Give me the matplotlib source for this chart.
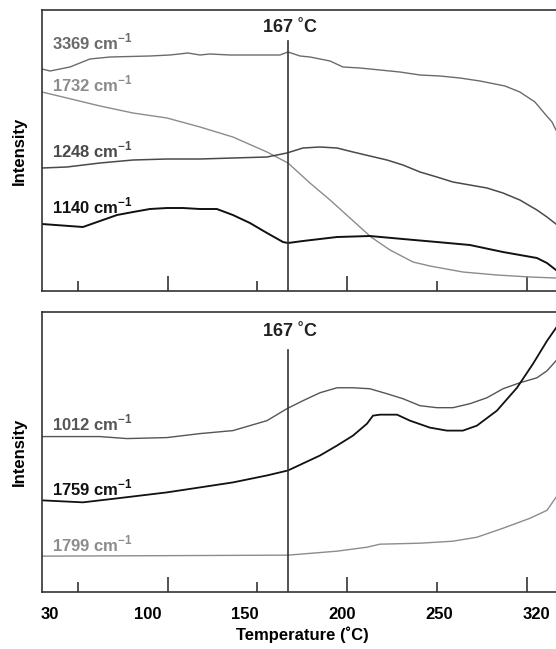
import matplotlib
matplotlib.use('Agg')
import matplotlib.pyplot as plt

plt.rcParams['font.family'] = ['Liberation Sans', 'DejaVu Sans']
plt.rcParams['font.weight'] = 'bold'
plt.rcParams['mathtext.fontset'] = 'custom'
plt.rcParams['mathtext.rm'] = 'Liberation Sans:bold'
plt.rcParams['mathtext.bf'] = 'Liberation Sans:bold'

# ---- data (temperature in degC, intensity in a.u.) ----
t_3369 = [30, 34.5, 40, 45.6, 56.7, 67.9, 90.1, 101.3, 111.3, 118, 123.5, 134.7, 145.8, 157, 162.5, 167,
          173.7, 179.2, 184.8, 190.4, 197.6, 207.1, 218.2, 229.3, 240.5, 251.6, 262.7, 273.9, 287.8, 296.1,
          304.5, 310.1, 314, 316.2]
i_3369 = [222, 220, 222, 224, 232, 234, 235, 236, 238, 236, 237, 236, 236, 236, 236, 239,
          235, 234, 232, 230, 224, 223, 221, 219, 216, 215, 213, 210, 205, 199,
          189, 177, 169, 161]

t_1732 = [30, 43.9, 62.3, 80.7, 99.6, 118, 136.3, 155.3, 167, 179.2, 190.4, 201.5, 213.2, 223.8,
          236.6, 246, 264.4, 283.3, 301.7, 316.2]
i_1732 = [199, 193, 185, 178, 173, 164, 154, 139, 128, 108, 91, 73, 54, 41,
          29, 25, 19, 16, 14, 13]

t_1248 = [30, 43.9, 62.3, 80.7, 99.6, 118, 136.3, 155.3, 166.4, 175.3, 184.8, 194.3, 203.2, 212.6,
          222.1, 231, 240.5, 249.9, 258.8, 268.3, 277.8, 286.7, 296.1, 305.6, 311.2, 316.2]
i_1248 = [123, 124, 128, 131, 132, 132, 133, 134, 138, 143, 144, 143, 139, 135,
          131, 126, 119, 114, 109, 106, 103, 98, 91, 81, 74, 67]

t_1140 = [30, 52.8, 62.3, 71.8, 80.7, 90.1, 99.6, 108.5, 118, 127.4, 136.3, 145.8, 155.3, 164.2, 167,
          175.3, 194.3, 212.6, 231, 249.9, 268.3, 286.7, 305.6, 311.2, 316.2]
i_1140 = [67, 64, 70, 76, 79, 82, 83, 83, 82, 82, 76, 68, 58, 49, 48,
          50, 54, 55, 52, 49, 46, 39, 33, 28, 21]

t_1012 = [30, 62.3, 77.3, 99.6, 118, 136.3, 155.3, 166.4, 175.3, 184.8, 194.3, 203.2, 212.6, 222.1,
          231, 240.5, 249.9, 258.8, 268.3, 277.8, 286.7, 296.1, 305.6, 311.2, 316.2]
i_1012 = [156, 156, 154, 155, 159, 162, 172, 184, 192, 200, 205, 205, 204, 199,
          194, 187, 185, 185, 189, 195, 204, 210, 215, 222, 232]

t_1759 = [30, 52.8, 71.8, 99.6, 118, 136.3, 155.3, 167, 175.3, 184.8, 194.3, 203.2, 211, 214.3,
          218.2, 227.7, 234.9, 246, 255.5, 264.4, 272.2, 283.3, 294.5, 303.4, 311.2, 316.2]
i_1759 = [92, 90, 94, 100, 105, 110, 117, 122, 129, 137, 147, 157, 169, 177,
          178, 178, 172, 165, 162, 162, 167, 182, 205, 229, 252, 265]

t_1799 = [30, 167, 194.3, 211, 218.2, 240.5, 258.8, 272.2, 286.7, 301.7, 311.2, 316.2]
i_1799 = [36, 37, 41, 45, 48, 49, 51, 55, 64, 74, 82, 95]

tick_marks_minor = [50, 150, 250]
tick_marks_major = [100, 200, 300]
label_pos = [34.5, 89, 143, 197, 251, 305.6]
label_text = ['30', '100', '150', '200', '250', '320']

top_series = [
    (t_3369, i_3369, '3369', '#6b6b6b', 1.0, 242),
    (t_1732, i_1732, '1732', '#8c8c8c', 1.0, 200),
    (t_1248, i_1248, '1248', '#4a4a4a', 1.1, 134),
    (t_1140, i_1140, '1140', '#111111', 1.4, 78),
]
bottom_series = [
    (t_1012, i_1012, '1012', '#555555', 1.0, 162),
    (t_1759, i_1759, '1759', '#111111', 1.3, 97),
    (t_1799, i_1799, '1799', '#8c8c8c', 1.0, 41),
]

fig = plt.figure(figsize=(5.56, 6.49), dpi=100)
ax_top = fig.add_axes([0.0755, 0.5516, 0.9367, 0.433])
ax_bot = fig.add_axes([0.0755, 0.0878, 0.9367, 0.4314])


def setup(ax, series, line_top, label_y, show_labels):
    for t, i, name, color, lw, ly in series:
        ax.plot(t, i, color=color, lw=lw)
        ax.text(35.6, ly, name + r' cm$^{\mathbf{-1}}$', color=color, fontsize=12,
                fontweight='bold', ha='left', va='baseline')
    ax.set_xlim(30, 320)
    ax.set_ylim(0, 281)
    ax.axvline(167, ymin=0, ymax=line_top / 281, color='#333333', lw=1.2)
    ax.text(168, label_y, '167 \u02daC', fontsize=13, fontweight='bold',
            ha='center', va='center', color='#222222')
    ax.set_yticks([])
    ax.set_ylabel('Intensity', fontsize=12, fontweight='bold', labelpad=11)
    for s in ax.spines.values():
        s.set_color('#333333')
        s.set_linewidth(1.2)
    ax.set_xticks(label_pos)
    if show_labels:
        ax.set_xticklabels(label_text, fontsize=12, fontweight='bold')
    else:
        ax.set_xticklabels([])
    ax.tick_params(axis='x', length=0, pad=11)
    ax.set_xticks(tick_marks_minor, minor=True)
    ax.tick_params(axis='x', which='minor', direction='in', length=7, width=1.2, color='#333333')
    sec = ax.secondary_xaxis('bottom')
    sec.set_xticks(tick_marks_major)
    sec.set_xticklabels([])
    sec.tick_params(direction='in', length=11, width=1.2, color='#333333')
    sec.spines['bottom'].set_visible(False)


setup(ax_top, top_series, 250, 263, False)
setup(ax_bot, bottom_series, 243, 261, True)
ax_bot.set_xlabel('Temperature (\u02daC)', fontsize=12, fontweight='bold', labelpad=3)

fig.savefig('out.png', dpi=100)
